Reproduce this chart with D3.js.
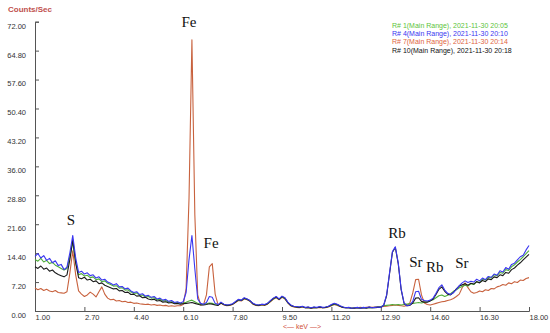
<!DOCTYPE html>
<html lang="en">
<head>
<meta charset="utf-8" />
<title>XRF spectra</title>
<script src="https://d3js.org/d3.v7.min.js"></script>
<style>
	body { margin: 0; background: #fff; }
	svg { display: block; }
	.axis text { font-family: "Liberation Sans", Arial, sans-serif; font-size: 7.5px; fill: #333; }
	.axis path, .axis line { stroke: #555; }
</style>
</head>
<body>
<div id="chart"></div>
<script>
	// channel grid: 1.0 .. 18.0 keV, 0.1 keV per channel
	var kevStart = 1.0, kevStep = 0.1;

	// R# 1 (green)
	var run1 = [
		12.8, 12.4, 13.1, 12.2, 12.6, 11.8, 12.1, 11.4, 11.0, 10.6,
		10.2, 10.6, 13.5, 17.2, 12.0, 9.0, 9.3, 8.7, 8.9, 8.3,
		8.5, 7.8, 8.0, 7.3, 7.5, 6.9, 6.6, 6.2, 6.3, 5.7,
		5.8, 5.2, 5.3, 4.7, 4.4, 4.5, 3.9, 4.0, 3.5, 3.6,
		3.2, 3.3, 2.8, 2.9, 2.5, 2.6, 2.2, 2.3, 2.0, 2.1,
		1.9, 2.0, 2.2, 2.5, 2.7, 2.3, 1.9, 1.7, 1.6, 1.8,
		2.0, 1.9, 1.6, 1.5, 2.0, 1.6, 1.4, 1.5, 1.7, 2.2,
		2.7, 2.6, 3.1, 2.9, 2.5, 1.8, 1.5, 1.4, 1.6, 1.5,
		1.8, 2.4, 3.0, 3.4, 2.9, 3.5, 3.1, 2.1, 1.4, 1.1,
		1.0, 0.9, 1.1, 0.8, 0.9, 0.8, 0.9, 0.8, 1.0, 0.8,
		0.9, 1.1, 1.4, 1.7, 1.5, 1.2, 0.9, 0.8, 0.8, 0.7,
		0.8, 0.8, 0.7, 0.8, 0.8, 0.9, 0.8, 0.9, 1.0, 1.1,
		1.3, 1.4, 1.5, 1.6, 1.5, 1.6, 1.5, 1.6, 1.7, 1.8,
		1.9, 2.0, 2.1, 2.0, 2.2, 2.3, 2.6, 2.8, 3.3, 3.8,
		4.0, 3.6, 3.9, 4.3, 4.9, 5.3, 5.8, 6.1, 6.4, 6.2,
		6.8, 6.6, 7.3, 7.1, 7.9, 7.7, 8.4, 8.2, 9.0, 8.8,
		9.6, 9.4, 10.3, 10.1, 11.0, 11.5, 12.2, 12.8, 13.5, 14.3,
		15.0
	];

	// R# 4 (blue)
	var run4 = [
		13.6, 14.3, 13.2, 13.8, 12.6, 13.1, 12.0, 12.5, 11.3, 11.6,
		10.3, 10.9, 14.5, 18.8, 13.2, 9.6, 9.9, 9.2, 9.5, 8.8,
		9.0, 8.2, 8.5, 7.7, 7.9, 7.2, 6.9, 6.5, 6.8, 6.0,
		6.1, 5.5, 5.7, 5.0, 4.6, 4.8, 4.1, 4.3, 3.7, 3.9,
		3.4, 3.6, 3.0, 3.2, 2.7, 2.9, 2.4, 2.6, 2.1, 2.3,
		2.0, 2.3, 4.6, 12.8, 18.8, 10.5, 3.0, 1.9, 1.7, 2.1,
		3.6, 3.4, 1.9, 1.6, 2.2, 1.7, 1.5, 1.6, 1.8, 2.4,
		2.9, 2.7, 3.3, 3.0, 2.6, 1.9, 1.6, 1.5, 1.7, 1.6,
		1.9, 2.6, 3.2, 3.6, 3.0, 3.7, 3.3, 2.2, 1.5, 1.2,
		1.1, 1.0, 1.2, 0.9, 1.0, 0.8, 1.0, 0.9, 1.1, 0.9,
		1.0, 1.2, 1.6, 1.9, 1.7, 1.3, 1.0, 0.8, 0.9, 0.7,
		0.8, 0.9, 0.7, 0.9, 0.8, 1.0, 0.8, 0.9, 1.0, 0.9,
		1.5, 4.0, 9.5, 14.8, 16.0, 12.0, 5.5, 2.0, 1.3, 1.5,
		2.4, 4.8, 4.9, 2.9, 2.6, 2.5, 2.7, 3.2, 4.4, 5.8,
		6.5, 5.2, 4.4, 4.1, 4.6, 5.4, 6.3, 7.0, 7.5, 7.1,
		7.4, 7.2, 7.9, 7.5, 8.2, 7.8, 8.6, 8.4, 9.2, 8.9,
		10.0, 9.7, 10.8, 10.4, 11.6, 11.9, 12.7, 13.5, 13.9, 15.2,
		16.3
	];

	// R# 7 (red)
	var run7 = [
		5.7, 5.3, 5.6, 5.1, 5.4, 5.0, 4.8, 5.1, 4.6, 4.5,
		4.4, 4.8, 9.5, 15.0, 9.0, 5.0, 4.2, 3.6, 4.0, 4.7,
		4.2, 3.5, 4.8, 6.0, 4.2, 3.2, 2.8, 2.9, 2.5, 2.6,
		2.3, 2.4, 2.1, 2.2, 1.9, 2.0, 1.8, 1.7, 1.6, 1.7,
		1.5, 1.6, 1.4, 1.5, 1.3, 1.4, 1.2, 1.3, 1.2, 1.3,
		1.3, 1.6, 5.5, 28.0, 67.5, 24.0, 4.0, 1.5, 1.6, 4.0,
		11.0, 11.8, 4.2, 1.5, 1.9, 1.5, 1.3, 1.4, 1.6, 2.1,
		2.6, 2.5, 3.0, 2.8, 2.4, 1.7, 1.4, 1.3, 1.5, 1.4,
		1.7, 2.3, 2.9, 3.3, 2.8, 3.4, 3.0, 2.0, 1.3, 1.0,
		0.9, 0.8, 1.0, 0.8, 0.9, 0.7, 0.8, 0.8, 0.9, 0.8,
		0.8, 1.0, 1.3, 1.6, 1.4, 1.1, 0.9, 0.8, 0.8, 0.7,
		0.8, 0.8, 0.9, 0.8, 0.9, 1.0, 0.9, 1.0, 1.1, 1.0,
		1.1, 1.2, 1.3, 1.4, 1.5, 1.4, 1.3, 1.2, 1.4, 2.0,
		4.5, 7.8, 7.9, 4.0, 2.0, 1.6, 1.5, 1.7, 1.9, 2.1,
		2.3, 2.4, 2.6, 2.8, 3.1, 3.6, 4.2, 5.8, 7.0, 5.8,
		4.8, 4.4, 4.6, 5.0, 4.8, 5.3, 5.1, 5.6, 5.5, 6.0,
		6.2, 6.6, 6.4, 7.0, 6.8, 7.3, 7.1, 7.7, 7.6, 8.1,
		8.3
	];

	// R# 10 (black)
	var run10 = [
		11.0, 10.6, 11.2, 10.4, 10.7, 9.9, 10.2, 9.5, 9.1, 8.8,
		8.5, 9.0, 12.8, 17.7, 12.0, 8.3, 8.0, 8.4, 7.7, 7.9,
		7.3, 7.5, 6.8, 7.0, 6.4, 6.1, 5.8, 5.5, 5.6, 5.0,
		5.1, 4.6, 4.7, 4.1, 4.2, 3.7, 3.8, 3.3, 3.4, 3.0,
		2.8, 2.9, 2.5, 2.6, 2.2, 2.3, 2.0, 2.1, 1.8, 1.9,
		1.7, 1.8, 1.9, 2.0, 2.1, 1.9, 1.7, 1.5, 1.5, 1.6,
		1.8, 1.7, 1.5, 1.4, 2.0, 1.6, 1.4, 1.5, 1.7, 2.2,
		2.8, 2.6, 3.2, 2.9, 2.5, 1.8, 1.5, 1.4, 1.6, 1.5,
		1.8, 2.5, 3.1, 3.5, 2.9, 3.6, 3.2, 2.1, 1.4, 1.1,
		1.0, 0.9, 1.1, 0.8, 0.9, 0.7, 0.9, 0.8, 1.0, 0.8,
		0.9, 1.1, 1.5, 1.8, 1.6, 1.2, 0.9, 0.8, 0.8, 0.7,
		0.7, 0.8, 0.7, 0.8, 0.7, 0.9, 0.8, 0.8, 0.9, 0.9,
		1.4, 3.8, 9.2, 14.6, 15.8, 11.8, 5.3, 1.9, 1.3, 1.4,
		2.0, 3.2, 3.3, 2.4, 2.2, 2.2, 2.5, 3.0, 4.1, 5.4,
		6.0, 4.9, 4.2, 4.0, 4.6, 5.5, 6.2, 6.5, 6.8, 6.4,
		6.9, 6.7, 7.3, 7.0, 7.6, 7.3, 8.0, 7.8, 8.5, 8.3,
		9.0, 8.8, 9.6, 9.4, 10.3, 10.7, 11.4, 12.0, 12.7, 13.4,
		14.1
	];

	var legendLabels = [
		"R# 1(Main Range), 2021-11-30 20:05",
		"R# 4(Main Range), 2021-11-30 20:10",
		"R# 7(Main Range), 2021-11-30 20:14",
		"R# 10(Main Range), 2021-11-30 20:18"
	];
	var legendColors = ["#5cc43a", "#3a36f0", "#e0643e", "#111111"];
	var lineColors = ["#4fae3a", "#3a36f0", "#c8623e", "#1a1a1a"];

	var xTicks = [1.00, 2.70, 4.40, 6.10, 7.80, 9.50, 11.20, 12.90, 14.60, 16.30, 18.00];
	var yTicks = [0, 7.2, 14.4, 21.6, 28.8, 36.0, 43.2, 50.4, 57.6, 64.8, 72.0];

	// element labels, anchored in (keV, counts)
	var peakNames = ["S", "Fe", "Fe", "Rb", "Sr", "Rb", "Sr"];
	var peakKev = [2.24, 6.30, 7.06, 13.46, 14.11, 14.76, 15.69];
	var peakCounts = [21.4, 70.7, 15.7, 18.2, 11.0, 9.7, 10.7];

	var width = 550, height = 333;
	var svg = d3.select("#chart").append("svg")
		.attr("width", width)
		.attr("height", height);

	var x = d3.scaleLinear().domain([1, 18]).range([35, 529]);
	var y = d3.scaleLinear().domain([0, 72]).range([311, 21.7]);

	// y axis
	var yAxis = svg.append("g")
		.attr("class", "axis")
		.attr("transform", "translate(35,0)")
		.call(d3.axisLeft(y).tickValues(yTicks).tickSize(-4).tickPadding(9)
			.tickFormat(d3.format(".2f")));
	yAxis.selectAll("text").attr("dy", "0.85em");

	// x axis
	var xAxis = svg.append("g")
		.attr("class", "axis")
		.attr("transform", "translate(0,311)")
		.call(d3.axisBottom(x).tickValues(xTicks).tickSize(-4).tickPadding(3)
			.tickFormat(d3.format(".2f")));
	xAxis.selectAll("text").attr("text-anchor", "start").attr("dy", "0.75em");

	// spectra
	var series = [run7, run1, run10, run4];
	var seriesColors = [lineColors[2], lineColors[0], lineColors[3], lineColors[1]];
	var line = d3.line()
		.x(function(d, i) { return x(kevStart + i * kevStep); })
		.y(function(d) { return y(d); });

	svg.selectAll(".spec")
		.data(series)
		.enter()
		.append("path")
		.attr("class", "spec")
		.attr("d", line)
		.attr("fill", "none")
		.attr("stroke", function(d, i) { return seriesColors[i]; })
		.attr("stroke-width", 1.1)
		.attr("stroke-linejoin", "round");

	// element labels
	svg.selectAll(".peak")
		.data(peakNames)
		.enter()
		.append("text")
		.attr("class", "peak")
		.attr("x", function(d, i) { return x(peakKev[i]); })
		.attr("y", function(d, i) { return y(peakCounts[i]); })
		.attr("text-anchor", "middle")
		.style("font-family", "'Liberation Serif', 'Times New Roman', serif")
		.style("font-size", "15px")
		.style("fill", "#111")
		.text(function(d) { return d; });

	// axis titles
	svg.append("text")
		.attr("x", 8)
		.attr("y", 12)
		.style("font-family", "'Liberation Sans', Arial, sans-serif")
		.style("font-size", "8px")
		.style("font-weight", "bold")
		.style("fill", "#c0504d")
		.text("Counts/Sec");

	svg.append("text")
		.attr("x", 302)
		.attr("y", 329)
		.attr("text-anchor", "middle")
		.style("font-family", "'Liberation Sans', Arial, sans-serif")
		.style("font-size", "7px")
		.style("fill", "#d0503a")
		.text("<\u2014 keV \u2014>");

	// legend
	svg.selectAll(".legend")
		.data(legendLabels)
		.enter()
		.append("text")
		.attr("class", "legend")
		.attr("x", 392)
		.attr("y", function(d, i) { return 27.5 + i * 8.4; })
		.style("font-family", "'Liberation Sans', Arial, sans-serif")
		.style("font-size", "7px")
		.style("fill", function(d, i) { return legendColors[i]; })
		.text(function(d) { return d; });
</script>
</body>
</html>
